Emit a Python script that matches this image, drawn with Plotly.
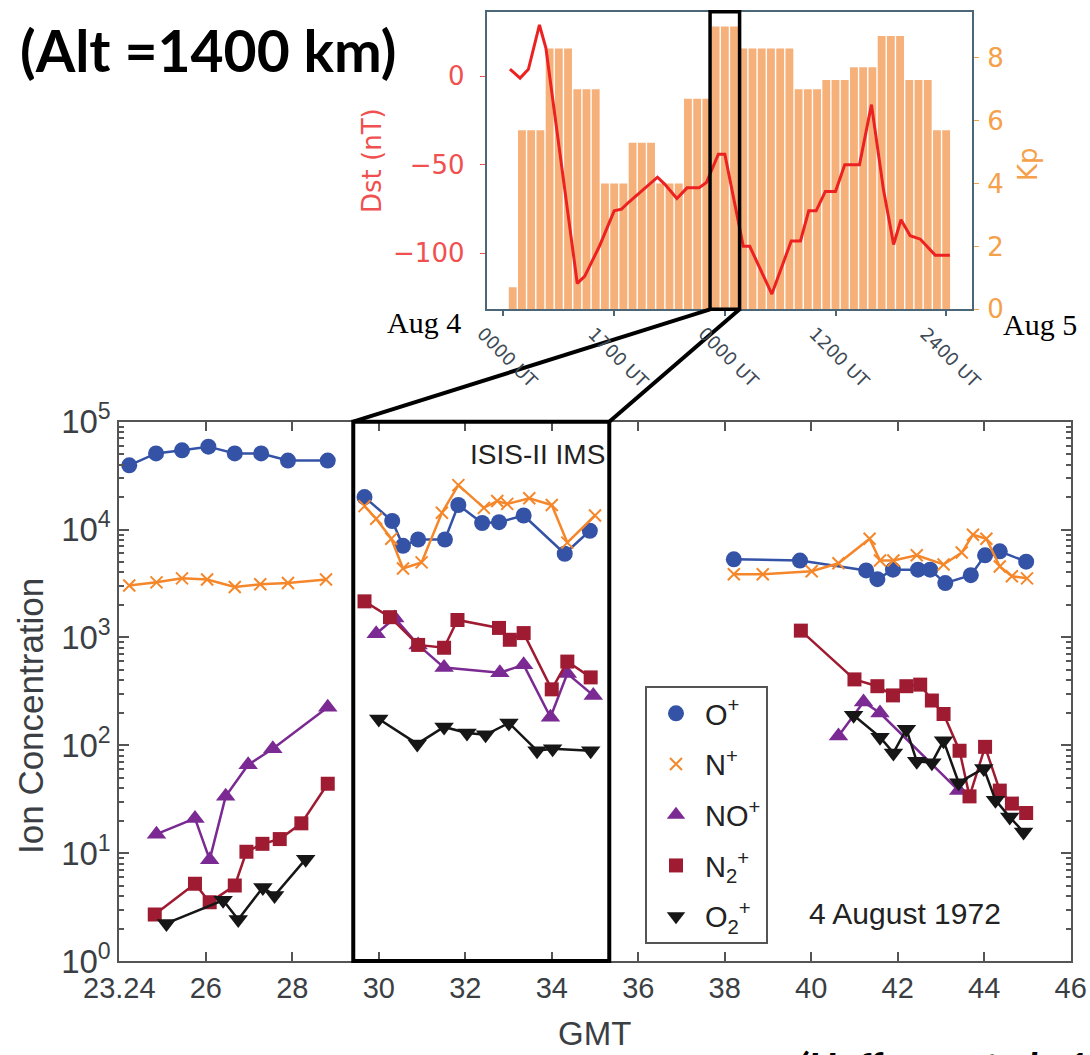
import plotly.graph_objects as go

# ---------------- data: main panel (GMT hours, ion concentration) ----------------
gmt_O = [24.23, 24.85, 25.45, 26.06, 26.67, 27.28, 27.90, 28.82, None,
         29.67, 30.31, 30.56, 30.91, 31.53, 31.84, 32.39, 32.78, 33.35, 34.30, 34.88, None,
         38.21, 39.74, 41.27, 41.53, 41.89, 42.47, 42.75, 43.10, 43.69, 44.02, 44.36, 44.97]
conc_O = [39400, 50800, 54300, 58700, 50800, 50800, 43600, 43600, None,
          20000, 12000, 7070, 8090, 8090, 16900, 11500, 11700, 13500, 5970, 9750, None,
          5300, 5160, 4180, 3470, 4250, 4250, 4250, 3190, 3780, 5770, 6280, 5040]

gmt_N = [24.23, 24.86, 25.45, 26.03, 26.67, 27.26, 27.90, 28.78, None,
         29.67, 29.94, 30.29, 30.56, 30.99, 31.46, 31.84, 32.43, 32.74, 32.97, 33.48, 34.00, 34.36, 35.00, None,
         38.21, 38.88, 40.01, 40.63, 41.35, 41.59, 41.90, 42.44, 43.06, 43.48, 43.74, 44.05, 44.36, 44.64, 44.99]
conc_N = [3030, 3240, 3530, 3440, 2930, 3110, 3190, 3440, None,
          16500, 12600, 8220, 4360, 4960, 14300, 25800, 15900, 18400, 17300, 19500, 16900, 7570, 13500, None,
          3850, 3850, 4110, 4870, 8230, 5160, 5160, 5770, 4750, 6120, 8960, 8230, 4550, 3690, 3530]

gmt_NO = [24.86, 25.75, 26.09, 26.46, 26.98, 27.55, 28.82, None,
          29.94, 30.37, 30.91, 31.51, 32.80, 33.35, 33.97, 34.36, 34.96, None,
          40.63, 41.21, 41.59, 43.41]
conc_NO = [15, 21, 8.7, 33.6, 66, 93, 225, None,
           1080, 1510, 852, 525, 471, 557, 182, 463, 290, None,
           122, 252, 199, 38]

gmt_N2 = [24.82, 25.75, 26.09, 26.67, 26.94, 27.31, 27.71, 28.21, 28.82, None,
          29.67, 30.26, 30.91, 31.51, 31.82, 32.78, 33.03, 33.35, 34.00, 34.36, 34.90, None,
          39.76, 41.00, 41.53, 41.89, 42.20, 42.52, 42.79, 43.06, 43.43, 43.66, 44.02, 44.36, 44.64, 44.97]
conc_N2 = [2.7, 5.2, 3.5, 5.0, 10.3, 12.2, 13.5, 18.9, 44, None,
           2160, 1540, 852, 802, 1450, 1225, 951, 1097, 330, 597, 426, None,
           1156, 408, 353, 290, 353, 365, 260, 195, 89, 33.6, 96.7, 38, 28.8, 23.5]

gmt_O2 = [25.09, 26.40, 26.75, 27.32, 27.59, 28.31, None,
          30.00, 30.89, 31.51, 32.04, 32.47, 33.01, 33.66, 34.02, 34.90, None,
          40.98, 41.59, 41.90, 42.20, 42.44, 42.79, 43.06, 43.41, 43.99, 44.26, 44.59, 44.91]
conc_O2 = [2.23, 3.66, 2.43, 4.8, 4.05, 8.8, None,
           175, 103, 148, 130, 125, 161, 89, 93, 89, None,
           190, 119, 85, 141, 71, 69, 110, 45, 61, 31, 21.6, 15.7]

x_tickvals = [24, 26, 28, 30, 32, 34, 36, 38, 40, 42, 44, 46]
x_ticktext = ["23.24", "26", "28", "30", "32", "34", "36", "38", "40", "42", "44", "46"]
y_tickvals = [1, 10, 100, 1000, 10000, 100000]
y_ticktext = ["10<sup>0</sup>", "10<sup>1</sup>", "10<sup>2</sup>", "10<sup>3</sup>",
              "10<sup>4</sup>", "10<sup>5</sup>"]

# ---------------- data: inset (hours from Aug 4 0000 UT) ----------------
kp_hour = [1, 2, 3, 4, 5, 6, 7, 8, 9, 10, 11, 12, 13, 14, 15, 16, 17, 18, 19, 20, 21, 22, 23, 24,
           25, 26, 27, 28, 29, 30, 31, 32, 33, 34, 35, 36, 37, 38, 39, 40, 41, 42, 43, 44, 45, 46, 47, 48]
kp_val = [0.7, 5.7, 5.7, 5.7, 8.3, 8.3, 8.3, 7.0, 7.0, 7.0, 4.0, 4.0, 4.0, 5.3, 5.3, 5.3,
          4.0, 4.0, 4.0, 6.7, 6.7, 6.7, 9.0, 9.0, 9.0, 8.3, 8.3, 8.3, 8.3, 8.3, 8.3,
          7.0, 7.0, 7.0, 7.3, 7.3, 7.3, 7.7, 7.7, 7.7, 8.7, 8.7, 8.7, 7.3, 7.3, 7.3, 5.7, 5.7]
dst_hour = [0.7, 1.8, 2.7, 3.9, 4.6, 8.0, 8.8, 10.4, 12.0, 12.8, 13.6, 15.4, 16.7, 17.5, 18.8,
            19.9, 21.2, 22.0, 23.3, 24.0, 26.0, 26.7, 29.1, 31.2, 32.2, 33.1, 33.9, 34.9, 36.0,
            37.0, 38.6, 39.9, 41.2, 42.3, 43.1, 44.1, 45.2, 46.8, 48.4]
dst_val = [4, -1, 4, 29, 16, -117, -113, -96, -76, -75, -71, -63, -57, -61, -69,
           -63, -63, -60, -44, -44, -96, -96, -123, -93, -93, -76, -76, -65, -65,
           -50, -50, -16, -64, -95, -81, -90, -92, -101, -101]
inset_tickvals = [0, 12, 24, 36, 48]
inset_ticktext = ["0000 UT", "1700 UT", "0000 UT", "1200 UT", "2400 UT"]

# ---------------- layout geometry ----------------
W, H = 1090, 1055
MX = [119.3 / W, 1070.7 / W]
MY = [1 - 961.0 / H, 1 - 421.7 / H]
IX = [486.7 / W, 972.0 / W]
IY = [1 - 309.3 / H, 1 - 11.7 / H]
MAIN_XR = [24, 46]
INSET_XR = [-1.82, 50.8]
ZOOM_MAIN = [29.41, 35.33]
ZOOM_INSET = [22.4, 25.6]

def main_xp(v):
    return MX[0] + (v - MAIN_XR[0]) / (MAIN_XR[1] - MAIN_XR[0]) * (MX[1] - MX[0])

def inset_xp(v):
    return IX[0] + (v - INSET_XR[0]) / (INSET_XR[1] - INSET_XR[0]) * (IX[1] - IX[0])

FONT = "Liberation Sans"
TICKC = "#3b3f44"
AXC = "#555555"
INSC = "#4b6777"
RED_T = "#f05050"
ORG_T = "#f5a04a"

C_O, C_N, C_NO, C_N2, C_O2 = "#3452a6", "#f5872a", "#7a2a92", "#9e1b32", "#161616"

fig = go.Figure()

# Kp bars (base inset axis) and Dst line (overlay axis, drawn on top)
fig.add_trace(go.Bar(x=kp_hour, y=kp_val, marker=dict(color="#f6b07a", line=dict(width=0)),
                     xaxis="x2", yaxis="y2", showlegend=False))
fig.add_trace(go.Scatter(x=dst_hour, y=dst_val, mode="lines", line=dict(color="#ec2222", width=3),
                         xaxis="x2", yaxis="y3", showlegend=False))

series = [
    (gmt_O, conc_O, C_O, dict(symbol="circle", size=16, color=C_O), "O<sup>+</sup>"),
    (gmt_N, conc_N, C_N, dict(symbol="x-thin", size=12, color=C_N, line=dict(width=2, color=C_N)), "N<sup>+</sup>"),
    (gmt_NO, conc_NO, C_NO, dict(symbol="triangle-up", size=17, color=C_NO), "NO<sup>+</sup>"),
    (gmt_N2, conc_N2, C_N2, dict(symbol="square", size=14, color=C_N2), "N<sub>2</sub><sup>+</sup>"),
    (gmt_O2, conc_O2, C_O2, dict(symbol="triangle-down", size=17, color=C_O2), "O<sub>2</sub><sup>+</sup>"),
]
for i, (xs, ys, col, mk, name) in enumerate(series):
    fig.add_trace(go.Scatter(x=xs, y=ys, mode="lines+markers", connectgaps=False,
                             line=dict(color=col, width=2.5), marker=mk,
                             xaxis="x", yaxis="y", showlegend=False))
for i, (xs, ys, col, mk, name) in enumerate(series):
    fig.add_trace(go.Scatter(x=[None], y=[None], mode="markers", marker=mk, name=name,
                             legendgroup="g%d" % i, xaxis="x", yaxis="y", showlegend=True))

minor_vals = [m * 10 ** k for k in range(0, 5) for m in range(2, 10)]

fig.update_layout(
    width=W, height=H, autosize=False,
    margin=dict(l=0, r=0, t=0, b=0, autoexpand=False),
    paper_bgcolor="white", plot_bgcolor="white",
    font=dict(family=FONT, color=TICKC),
    bargap=0.15,
    xaxis=dict(domain=MX, range=MAIN_XR, tickmode="array", tickvals=x_tickvals, ticktext=x_ticktext,
               ticks="inside", ticklen=9, tickwidth=2, tickcolor=AXC, showline=True, linecolor=AXC,
               linewidth=2, mirror="ticks", showgrid=False, zeroline=False, automargin=False,
               tickfont=dict(size=29, color=TICKC, family=FONT), anchor="y"),
    yaxis=dict(domain=MY, type="log", range=[0, 5], tickmode="array", tickvals=y_tickvals,
               ticktext=y_ticktext, ticks="inside", ticklen=10, tickwidth=2, tickcolor=AXC,
               showline=True, linecolor=AXC, linewidth=2, mirror="ticks", showgrid=False,
               zeroline=False, automargin=False, tickfont=dict(size=33, color=TICKC, family=FONT),
               minor=dict(tickmode="array", tickvals=minor_vals, ticks="inside", ticklen=5,
                          tickwidth=1.5, tickcolor=AXC, showgrid=False),
               anchor="x"),
    xaxis2=dict(domain=IX, range=INSET_XR, anchor="y2", tickmode="array", tickvals=inset_tickvals,
                showticklabels=False, ticks="outside", ticklen=5, tickwidth=1.5,
                tickcolor=INSC, showline=True, linecolor=INSC, linewidth=2, mirror=True,
                showgrid=False, zeroline=False, automargin=False),
    yaxis2=dict(domain=IY, range=[0, 9.47], anchor="x2", side="right", tickmode="array",
                tickvals=[0, 2, 4, 6, 8], ticks="outside", ticklen=5, tickcolor=ORG_T,
                showline=True, linecolor=INSC, linewidth=2, showgrid=False, zeroline=False,
                automargin=False, ticklabelstandoff=3,
                tickfont=dict(size=26, color=ORG_T, family="DejaVu Sans")),
    yaxis3=dict(range=[-131.6, 36.5], overlaying="y2", anchor="x2", side="left", tickmode="array",
                tickvals=[-100, -50, 0], ticktext=["\u2212100", "\u221250", "0"], ticks="outside",
                ticklen=5, tickcolor=RED_T, showline=True, linecolor=INSC, linewidth=2,
                showgrid=False, zeroline=False, automargin=False, ticklabelstandoff=10,
                tickfont=dict(size=26, color=RED_T, family="DejaVu Sans")),
    legend=dict(x=645 / W, y=1 - 686 / H, xanchor="left", yanchor="top", bordercolor="#555555",
                borderwidth=2, bgcolor="white", font=dict(size=29, color="#222222", family=FONT),
                tracegroupgap=10, itemsizing="trace", itemwidth=48),
)

# zoom boxes and connector lines
fig.add_shape(type="rect", xref="x", yref="y domain", x0=ZOOM_MAIN[0], x1=ZOOM_MAIN[1], y0=0, y1=1,
              line=dict(color="black", width=4))
fig.add_shape(type="rect", xref="x2", yref="y2 domain", x0=ZOOM_INSET[0], x1=ZOOM_INSET[1], y0=0, y1=1,
              line=dict(color="black", width=3.5))
fig.add_shape(type="line", xref="paper", yref="paper", x0=main_xp(ZOOM_MAIN[0]), y0=MY[1],
              x1=inset_xp(ZOOM_INSET[0]), y1=IY[0], line=dict(color="black", width=4))
fig.add_shape(type="line", xref="paper", yref="paper", x0=main_xp(ZOOM_MAIN[1]), y0=MY[1],
              x1=inset_xp(ZOOM_INSET[1]), y1=IY[0], line=dict(color="black", width=4))

# axis titles
fig.add_annotation(text="GMT", xref="paper", yref="paper", x=595 / W, y=1 - 1033 / H,
                   xanchor="center", yanchor="middle", showarrow=False,
                   font=dict(size=33, color=TICKC, family=FONT))
fig.add_annotation(text="Ion Concentration", xref="paper", yref="paper", x=30 / W, y=1 - 716 / H,
                   xanchor="center", yanchor="middle", showarrow=False, textangle=-90,
                   font=dict(size=35, color=TICKC, family=FONT))
fig.add_annotation(text="Dst (nT)", xref="paper", yref="paper", x=372 / W, y=1 - 161 / H,
                   xanchor="center", yanchor="middle", showarrow=False, textangle=-90,
                   font=dict(size=26, color=RED_T, family="DejaVu Sans"))
fig.add_annotation(text="Kp", xref="paper", yref="paper", x=1028 / W, y=1 - 164 / H,
                   xanchor="center", yanchor="middle", showarrow=False, textangle=-90,
                   font=dict(size=26, color=ORG_T, family="DejaVu Sans"))

# inset rotated time labels
for tv, tt in zip(inset_tickvals, inset_ticktext):
    fig.add_annotation(text=tt, xref="x2", yref="paper", x=tv, xshift=4, y=1 - 358 / H,
                       xanchor="center", yanchor="middle", showarrow=False, textangle=45,
                       font=dict(size=18, color="#3d4a55", family="DejaVu Sans"))

# other text
fig.add_annotation(text="ISIS-II IMS", xref="x", yref="y", x=35.27, y=4.70, xanchor="right",
                   yanchor="middle", showarrow=False, font=dict(size=28, color="#222222", family=FONT))
fig.add_annotation(text="4 August 1972", xref="x", yref="y", x=42.17, y=0.445, xanchor="center",
                   yanchor="middle", showarrow=False, font=dict(size=30, color="#222222", family=FONT))
fig.add_annotation(text="<b>(Alt =1400 km)</b>", xref="paper", yref="paper", x=208 / W, y=1 - 50 / H,
                   xanchor="center", yanchor="middle", showarrow=False,
                   font=dict(size=57, color="black", family="Lato"))
fig.add_annotation(text="Aug 4", xref="paper", yref="paper", x=424 / W, y=1 - 322 / H,
                   xanchor="center", yanchor="middle", showarrow=False,
                   font=dict(size=30, color="black", family="Liberation Serif"))
fig.add_annotation(text="Aug 5", xref="paper", yref="paper", x=1001 / W, y=1 - 324 / H,
                   xanchor="left", yanchor="middle", showarrow=False,
                   font=dict(size=30, color="black", family="Liberation Serif"))
fig.add_annotation(text="<b><i>(Hoffman et al., 1975)</i></b>", xref="paper", yref="paper",
                   x=795 / W, y=1 - 1041 / H, xanchor="left", yanchor="top", showarrow=False,
                   font=dict(size=40, color="black", family="Lato"))

fig.write_html("out.html", config={"displayModeBar": False},
               post_script="document.body.style.margin='0';document.body.style.overflow='hidden';")
